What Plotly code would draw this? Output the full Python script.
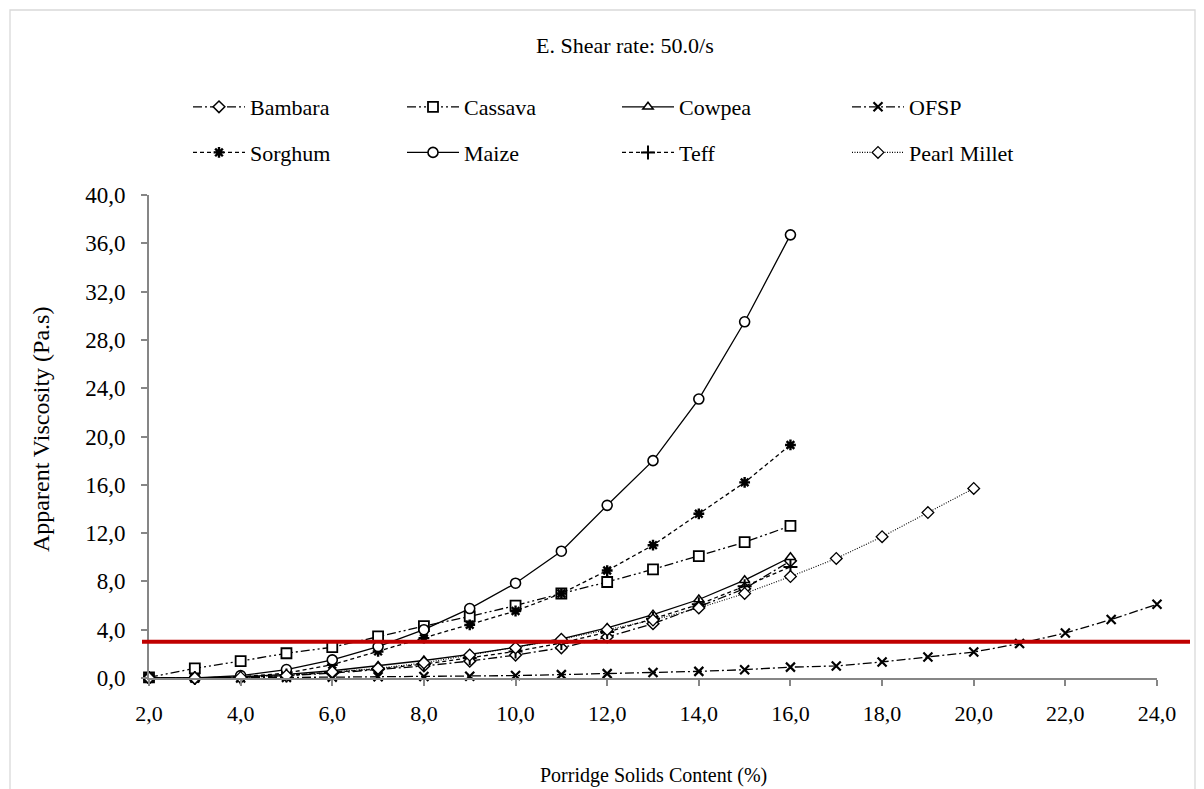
import plotly.graph_objects as go

# ---------------- data ----------------
x_main = list(range(2, 17))      # 2..16 %
x_pearl = list(range(2, 21))     # 2..20 %
x_ofsp = list(range(2, 25))      # 2..24 %

bambara = [0.0, 0.0, 0.05, 0.2, 0.4, 0.7, 1.0, 1.4, 1.9, 2.5, 3.4, 4.5, 5.9, 7.4, 9.7]
cassava = [0.05, 0.8, 1.4, 2.05, 2.55, 3.45, 4.3, 5.1, 6.0, 7.0, 7.95, 9.0, 10.1, 11.25, 12.6]
cowpea = [0.0, 0.0, 0.1, 0.3, 0.6, 1.0, 1.45, 1.95, 2.55, 3.25, 4.15, 5.25, 6.5, 8.1, 10.0]
ofsp = [0.0, 0.0, 0.0, 0.05, 0.07, 0.1, 0.12, 0.15, 0.2, 0.28, 0.36, 0.45, 0.55, 0.69, 0.9,
        1.0, 1.33, 1.74, 2.15, 2.85, 3.73, 4.84, 6.1]
sorghum = [0.0, 0.0, 0.1, 0.4, 1.1, 2.2, 3.3, 4.4, 5.55, 7.0, 8.9, 11.0, 13.6, 16.2, 19.3]
maize = [0.0, 0.0, 0.2, 0.7, 1.5, 2.6, 4.0, 5.75, 7.85, 10.5, 14.3, 18.0, 23.1, 29.5, 36.7]
teff = [0.0, 0.0, 0.05, 0.2, 0.45, 0.75, 1.15, 1.65, 2.2, 2.9, 3.8, 4.9, 6.1, 7.6, 9.2]
pearl_millet = [0.0, 0.0, 0.05, 0.2, 0.5, 0.8, 1.25, 1.9, 2.5, 3.2, 4.0, 4.8, 5.8, 7.0, 8.4,
                9.9, 11.7, 13.7, 15.7]

threshold = 3.0

x_ticks = [2, 4, 6, 8, 10, 12, 14, 16, 18, 20, 22, 24]
y_ticks = [0, 4, 8, 12, 16, 20, 24, 28, 32, 36, 40]

title_text = "E. Shear rate: 50.0/s"
x_title = "Porridge Solids Content (%)"
y_title = "Apparent Viscosity (Pa.s)"

# ---------------- layout geometry (pixels) ----------------
W, H = 1204, 789
ML, MR, MT, MB = 149, 47, 195, 111
PW, PH = W - ML - MR, H - MT - MB


def px(xp):
    return (xp - ML) / PW


def py(yp):
    return (H - MB - yp) / PH


FONT = "'Liberation Serif', 'Times New Roman', Times, serif"

fig = go.Figure()


def add(name, x, y, dash, symbol, size, legend, group, filled=True, lw=1.3, mlw=1.5):
    if filled:
        marker = dict(symbol=symbol, size=size, color="white",
                      line=dict(color="black", width=mlw))
    else:
        marker = dict(symbol=symbol, size=size, color="black",
                      line=dict(color="black", width=mlw))
    fig.add_trace(go.Scatter(
        x=x, y=y, name=name, mode="lines+markers",
        line=dict(color="black", width=lw, dash=dash),
        marker=marker, legend=legend, legendgroup=group, cliponaxis=False))


DASHDOT = "9px,3px,2px,3px"
DASHDOTDOT = "9px,3px,2px,3px,2px,3px"
DASH = "4px,3px"
DOT = "1px,1.5px"

# first legend row
add("Bambara", x_main, bambara, DASHDOT, "diamond", 9, "legend", "g1")
add("Cassava", x_main, cassava, DASHDOTDOT, "square", 10, "legend2", "g2", mlw=1.8)
add("Cowpea", x_main, cowpea, "solid", "triangle-up", 9, "legend3", "g3")
add("OFSP", x_ofsp, ofsp, DASHDOT, "x-thin-open", 9, "legend4", "g4", filled=False, mlw=2.2)
# second legend row
add("Sorghum", x_main, sorghum, DASH, "asterisk-open", 9, "legend", "g5", filled=False, mlw=2.4)
add("Maize", x_main, maize, "solid", "circle", 10, "legend2", "g6", mlw=1.6)
add("Teff", x_main, teff, DASH, "cross-thin-open", 10, "legend3", "g7", filled=False, mlw=2)
add("Pearl Millet", x_pearl, pearl_millet, DOT, "diamond", 9, "legend4", "g8", mlw=1.3, lw=1.1)

# threshold line (extends slightly beyond the plot area as in the original)
fig.add_shape(type="line", xref="paper", yref="y",
              x0=px(142), x1=px(1190), y0=threshold, y1=threshold,
              line=dict(color="#C00000", width=4), layer="above")

# chart-area border
fig.add_shape(type="rect", xref="paper", yref="paper",
              x0=px(10), x1=px(1195), y0=py(800), y1=py(10),
              line=dict(color="#D9D9D9", width=1.3), layer="below")

axis_col = "#868686"
fig.update_xaxes(range=[2, 24], tickvals=x_ticks, tickformat=".1f",
                 showgrid=False, zeroline=False, showline=True,
                 linecolor=axis_col, linewidth=2, ticks="outside",
                 tickcolor=axis_col, ticklen=6, tickwidth=2,
                 ticklabelstandoff=9,
                 tickfont=dict(family=FONT, size=22, color="black"))
fig.update_yaxes(range=[0, 40], tickvals=y_ticks, tickformat=".1f",
                 showgrid=False, zeroline=False, showline=True,
                 linecolor=axis_col, linewidth=2, ticks="outside",
                 tickcolor=axis_col, ticklen=6, tickwidth=2,
                 ticklabelstandoff=11,
                 tickfont=dict(family=FONT, size=23, color="black"))

legend_common = dict(orientation="v", yanchor="top", xanchor="left",
                     font=dict(family=FONT, size=22, color="black"),
                     bgcolor="rgba(0,0,0,0)", itemwidth=52, tracegroupgap=14,
                     traceorder="grouped")
ytop = py(86)
fig.update_layout(
    width=W, height=H,
    margin=dict(l=ML, r=MR, t=MT, b=MB, autoexpand=False),
    paper_bgcolor="white", plot_bgcolor="white",
    separators=", ",
    showlegend=True,
    legend=dict(x=px(188), y=ytop, **legend_common),
    legend2=dict(x=px(402), y=ytop, **legend_common),
    legend3=dict(x=px(617), y=ytop, **legend_common),
    legend4=dict(x=px(847), y=ytop, **legend_common),
    annotations=[
        dict(text=title_text, xref="paper", yref="paper", x=px(625), y=py(46),
             showarrow=False, font=dict(family=FONT, size=22, color="black"),
             xanchor="center", yanchor="middle"),
        dict(text=x_title, xref="paper", yref="paper", x=px(653), y=py(775),
             showarrow=False, font=dict(family=FONT, size=20, color="black"),
             xanchor="center", yanchor="middle"),
        dict(text=y_title, xref="paper", yref="paper", x=px(41), y=py(430),
             showarrow=False, textangle=-90,
             font=dict(family=FONT, size=24, color="black"),
             xanchor="center", yanchor="middle"),
    ],
)

fig.write_html("out.html")
